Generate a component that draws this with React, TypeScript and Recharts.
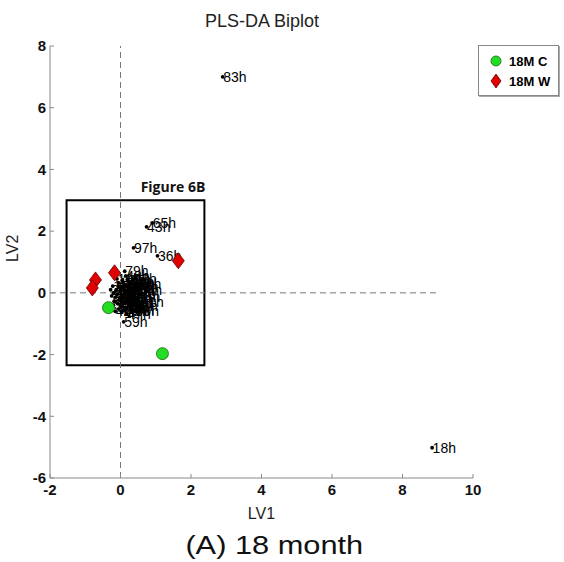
import React from 'react';
import {
  ScatterChart, Scatter, XAxis, YAxis, ReferenceLine, ReferenceArea,
} from 'recharts';

const xTicks = [-2, 0, 2, 4, 6, 8, 10];
const yTicks = [-6, -4, -2, 0, 2, 4, 6, 8];

const groupC = [
  { x: -0.34, y: -0.48 },
  { x: 1.19, y: -1.97 },
];
const groupW = [
  { x: 1.64, y: 1.04 },
  { x: -0.17, y: 0.65 },
  { x: -0.71, y: 0.42 },
  { x: -0.8, y: 0.16 },
];

const outliers = [
  { x: 2.9, y: 7.0, name: '83h' },
  { x: 8.84, y: -5.02, name: '18h' },
  { x: 0.9, y: 2.27, name: '65h' },
  { x: 0.74, y: 2.14, name: '43h' },
  { x: 0.37, y: 1.46, name: '97h' },
  { x: 1.05, y: 1.2, name: '36h' },
  { x: 0.12, y: 0.7, name: '79h' },
  { x: 0.09, y: -0.94, name: '59h' },
  { x: 0.02, y: -0.6, name: '77h' },
];

const cluster = [
  { x: 0.15, y: 0.55, name: '48h' },
  { x: 0.2, y: 0.42, name: '25h' },
  { x: 0.05, y: 0.4, name: '31h' },
  { x: 0.3, y: 0.3, name: '62h' },
  { x: 0.42, y: 0.05, name: '50h' },
  { x: 0.1, y: 0.25, name: '14h' },
  { x: -0.05, y: 0.2, name: '8h' },
  { x: 0.25, y: 0.15, name: '72h' },
  { x: 0.0, y: 0.05, name: '3h' },
  { x: 0.18, y: 0.0, name: '91h' },
  { x: -0.1, y: -0.05, name: '27h' },
  { x: 0.32, y: -0.08, name: '54h' },
  { x: 0.08, y: -0.12, name: '11h' },
  { x: -0.15, y: -0.15, name: '39h' },
  { x: 0.22, y: -0.2, name: '66h' },
  { x: 0.0, y: -0.25, name: '5h' },
  { x: 0.35, y: -0.28, name: '84h' },
  { x: 0.12, y: -0.32, name: '20h' },
  { x: -0.08, y: -0.35, name: '46h' },
  { x: 0.25, y: -0.4, name: '58h' },
  { x: 0.05, y: -0.45, name: '70h' },
  { x: 0.15, y: -0.5, name: '33h' },
  { x: -0.12, y: 0.1, name: '22h' },
  { x: 0.4, y: 0.2, name: '88h' },
  { x: 0.28, y: 0.35, name: '41h' },
  { x: -0.2, y: 0.0, name: '9h' },
  { x: 0.45, y: -0.15, name: '95h' },
  { x: 0.1, y: 0.12, name: '17h' },
  { x: -0.02, y: -0.18, name: '29h' },
  { x: 0.2, y: -0.3, name: '53h' },
  { x: 0.38, y: -0.42, name: '61h' },
  { x: -0.05, y: 0.32, name: '12h' },
  { x: 0.12, y: -0.05, name: '2h' },
  { x: 0.3, y: 0.05, name: '75h' },
  { x: -0.18, y: -0.28, name: '44h' },
  { x: 0.08, y: -0.58, name: '68h' },
  { x: 0.22, y: 0.25, name: '37h' },
  { x: 0.02, y: 0.15, name: '6h' },
  { x: -0.22, y: 0.22, name: '15h' },
  { x: -0.25, y: -0.1, name: '24h' },
  { x: -0.2, y: -0.4, name: '35h' },
  { x: 0.5, y: 0.1, name: '56h' },
  { x: 0.55, y: -0.3, name: '81h' },
  { x: 0.35, y: 0.45, name: '93h' },
  { x: -0.1, y: 0.45, name: '10h' },
  { x: 0.28, y: -0.55, name: '64h' },
  { x: -0.05, y: -0.52, name: '71h' },
  { x: 0.48, y: 0.3, name: '86h' },
  { x: -0.15, y: -0.6, name: '42h' },
  { x: 0.18, y: -0.68, name: '47h' },
  { x: 0.42, y: -0.6, name: '99h' },
  { x: -0.28, y: 0.1, name: '26h' },
];

const legendItems = [
  { name: '18M C', kind: 'circle' },
  { name: '18M W', kind: 'diamond' },
];

const FONT = '"Liberation Sans", Arial, sans-serif';

const LabeledDot = (props: any) => {
  const { cx, cy, payload } = props;
  return (
    <g>
      <circle cx={cx} cy={cy} r={1.9} fill="#000" />
      <text x={cx + 0.5} y={cy} dy="0.35em" fontSize={14} fontFamily={FONT} fill="#000" stroke="none">
        {payload.name}
      </text>
    </g>
  );
};

const Diamond = (props: any) => {
  const { cx, cy } = props;
  const w = 6, h = 8;
  return (
    <path
      d={`M${cx},${cy - h} L${cx + w},${cy} L${cx},${cy + h} L${cx - w},${cy} Z`}
      fill="#e00000"
      stroke="#600"
      strokeWidth={0.8}
    />
  );
};

const Dot = (props: any) => {
  const { cx, cy } = props;
  return <circle cx={cx} cy={cy} r={6} fill="#22dd22" stroke="#116611" strokeWidth={0.8} />;
};

const LegendBox = () => (
  <div
    style={{
      position: 'absolute',
      left: 478,
      top: 45,
      border: '1px solid #888',
      boxShadow: '1px 1px 0 #aaa',
      width: 81,
      height: 51,
      boxSizing: 'border-box',
      padding: '5px 0',
      background: '#fff',
      fontFamily: FONT,
      fontWeight: 'bold',
      fontSize: 13,
    }}
  >
    {legendItems.map((it) => (
      <div key={it.name} style={{ display: 'flex', alignItems: 'center', height: 20, paddingLeft: 11 }}>
        <svg width={12} height={16}>
          {it.kind === 'circle' ? (
            <circle cx={6} cy={8} r={5} fill="#22dd22" stroke="#116611" strokeWidth={0.8} />
          ) : (
            <path d="M6,1 L11,8 L6,15 L1,8 Z" fill="#e00000" stroke="#600" strokeWidth={0.8} />
          )}
        </svg>
        <span style={{ marginLeft: 7 }}>{it.name}</span>
      </div>
    ))}
  </div>
);

const FigLabel = (props: any) => {
  const vb = props.viewBox;
  return (
    <text
      x={vb.x + vb.width + 1}
      y={vb.y - 8}
      textAnchor="end"
      fontFamily='"Open Sans", sans-serif'
      fontWeight="bold"
      fontSize={14}
      fill="#111"
    >
      Figure 6B
    </text>
  );
};

export default function App() {
  return (
    <div style={{ position: 'absolute', left: 0, top: 0, width: 564, height: 562, background: '#fff' }}>
      <div
        style={{
          position: 'absolute', left: 0, width: 524, top: 11, textAlign: 'center',
          fontFamily: FONT, fontSize: 18, lineHeight: '20px', color: '#222',
        }}
      >
        PLS-DA Biplot
      </div>
      <ScatterChart
        width={564}
        height={562}
        margin={{ top: 46, right: 91, bottom: 54, left: 10 }}
      >
        <XAxis
          type="number"
          dataKey="x"
          domain={[-2, 10]}
          ticks={xTicks}
          interval={0}
          allowDataOverflow
          height={30}
          stroke="#888"
          tickSize={-4}
          tickMargin={10}
          tick={{ fill: '#111', fontSize: 15, fontWeight: 'bold', fontFamily: FONT }}
          label={{ value: 'LV1', position: 'insideBottom', offset: -11, fill: '#222', fontSize: 16, fontFamily: FONT }}
        />
        <YAxis
          type="number"
          dataKey="y"
          domain={[-6, 8]}
          ticks={yTicks}
          interval={0}
          allowDataOverflow
          width={40}
          stroke="#888"
          tickSize={-4}
          tickMargin={8}
          tick={{ fill: '#111', fontSize: 15, fontWeight: 'bold', fontFamily: FONT }}
          label={{ value: 'LV2', angle: -90, position: 'insideLeft', offset: 2, fill: '#222', fontSize: 16, fontFamily: FONT }}
        />
        <ReferenceLine
          segment={[{ x: -2, y: 0 }, { x: 9, y: 0 }]}
          stroke="#777"
          strokeDasharray="6 4"
        />
        <ReferenceLine x={0} stroke="#777" strokeDasharray="6 4" />
        <ReferenceArea
          x1={-1.53}
          x2={2.38}
          y1={-2.35}
          y2={3}
          fill="none"
          fillOpacity={0}
          stroke="#000"
          strokeWidth={2}
          label={<FigLabel />}
        />
        <Scatter data={cluster} fill="#000" shape={<LabeledDot />} isAnimationActive={false} legendType="none" />
        <Scatter data={outliers} fill="#000" shape={<LabeledDot />} isAnimationActive={false} legendType="none" />
        <Scatter name="18M C" data={groupC} fill="#22dd22" shape={<Dot />} isAnimationActive={false} />
        <Scatter name="18M W" data={groupW} fill="#e00000" shape={<Diamond />} isAnimationActive={false} />
      </ScatterChart>
      <LegendBox />
      <div
        style={{
          position: 'absolute', left: 0, width: 548, top: 531, textAlign: 'center',
          fontFamily: FONT, fontSize: 25, lineHeight: '28px', color: '#111',
        }}
      >
        <span style={{ display: 'inline-block', transform: 'scaleX(1.23)' }}>(A) 18 month</span>
      </div>
    </div>
  );
}
